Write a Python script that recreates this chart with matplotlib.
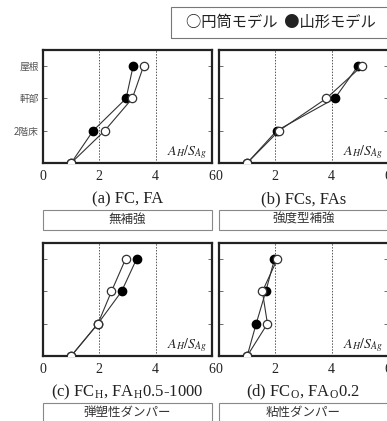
import matplotlib.pyplot as plt
from matplotlib.patches import Rectangle

plt.rcParams['font.family'] = ['Liberation Serif', 'Noto Sans CJK JP']
plt.rcParams['mathtext.fontset'] = 'stix'

levels = [0, 1, 2, 3]
level_labels = ['', '2階床', '軒部', '屋根']

# A_H/S_Ag per level (ground, 2F, eave, roof)
fca_cyl = [1.0, 2.19, 3.17, 3.57]
fca_mtn = [1.0, 1.78, 2.95, 3.20]
fcs_cyl = [1.0, 2.13, 3.81, 5.07]
fcs_mtn = [1.0, 2.05, 4.11, 4.93]
fch_cyl = [1.0, 1.95, 2.43, 2.93]
fch_mtn = [1.0, 1.95, 2.79, 3.32]
fco_cyl = [1.0, 1.72, 1.54, 2.07]
fco_mtn = [1.0, 1.32, 1.66, 1.97]

captions = ['(a) FC, FA', '(b) FCs, FAs',
            r'(c) FC$_\mathregular{H}$, FA$_\mathregular{H}$0.5-1000',
            r'(d) FC$_\mathregular{O}$, FA$_\mathregular{O}$0.2']
box_labels = ['無補強', '強度型補強', '弾塑性ダンパー', '粘性ダンパー']
legend_text = '○円筒モデル  ●山形モデル'
series = [(fca_cyl, fca_mtn), (fcs_cyl, fcs_mtn),
          (fch_cyl, fch_mtn), (fco_cyl, fco_mtn)]

W, H = 387, 421
fig = plt.figure(figsize=(W / 100, H / 100), dpi=100)
gray = '#333333'

positions = [(43, 50), (219, 50), (43, 243), (219, 243)]
aw, ah = 169, 113

for i, ((px, py), (cyl, mtn)) in enumerate(zip(positions, series)):
    ax = fig.add_axes([px / W, 1 - (py + ah) / H, aw / W, ah / H])
    for xv in (2, 4):
        ax.axvline(xv, color='#555555', lw=0.7, ls=(0, (1.5, 1.5)), zorder=1)
    ax.plot(mtn, levels, color=gray, lw=0.8, marker='o', ms=6,
            mfc='black', mec='black', zorder=3)
    ax.plot(cyl, levels, color=gray, lw=0.8, marker='o', ms=6,
            mfc='white', mec=gray, mew=0.9, zorder=4)
    ax.set_xlim(0, 6)
    ax.set_ylim(0, 3.5)
    ax.set_xticks([0, 2, 4, 6])
    ax.set_yticks([1, 2, 3])
    ax.tick_params(axis='y', direction='in', left=True, right=True,
                   length=3, width=0.6, colors='#555555', pad=3)
    ax.tick_params(axis='x', length=0, labelsize=10, labelcolor='#222222', pad=5)
    if i == 0:
        ax.set_yticklabels(level_labels[1:], fontsize=7, color='#555555',
                           family=['Noto Sans CJK JP'])
    else:
        ax.set_yticklabels([])
    for s in ax.spines.values():
        s.set_linewidth(1.6)
        s.set_color('#222222')
    ax.text(0.97, 0.1, r'$A_H/S_{Ag}$', transform=ax.transAxes,
            ha='right', va='center', fontsize=10, color='#222222')
    ax.text(0.5, -0.32, captions[i], transform=ax.transAxes,
            ha='center', va='center', fontsize=12, color='#222222')

    by = py + ah + 47
    fig.patches.append(Rectangle((px / W, 1 - (by + 20) / H), aw / W, 20 / H,
                                 transform=fig.transFigure, fill=False,
                                 ec='#888888', lw=0.8))
    fig.text((px + aw / 2) / W, 1 - (by + 10) / H, box_labels[i],
             ha='center', va='center', fontsize=9, color='#333333')

# legend box across the top right
fig.patches.append(Rectangle((171 / W, 1 - 38 / H), 220 / W, 31 / H,
                             transform=fig.transFigure, fill=False,
                             ec='#777777', lw=0.8))
fig.text(281 / W, 1 - 22.5 / H, legend_text, ha='center', va='center',
         fontsize=11, color='#222222', family=['Noto Sans CJK JP'])

fig.savefig('out.png', dpi=100)
